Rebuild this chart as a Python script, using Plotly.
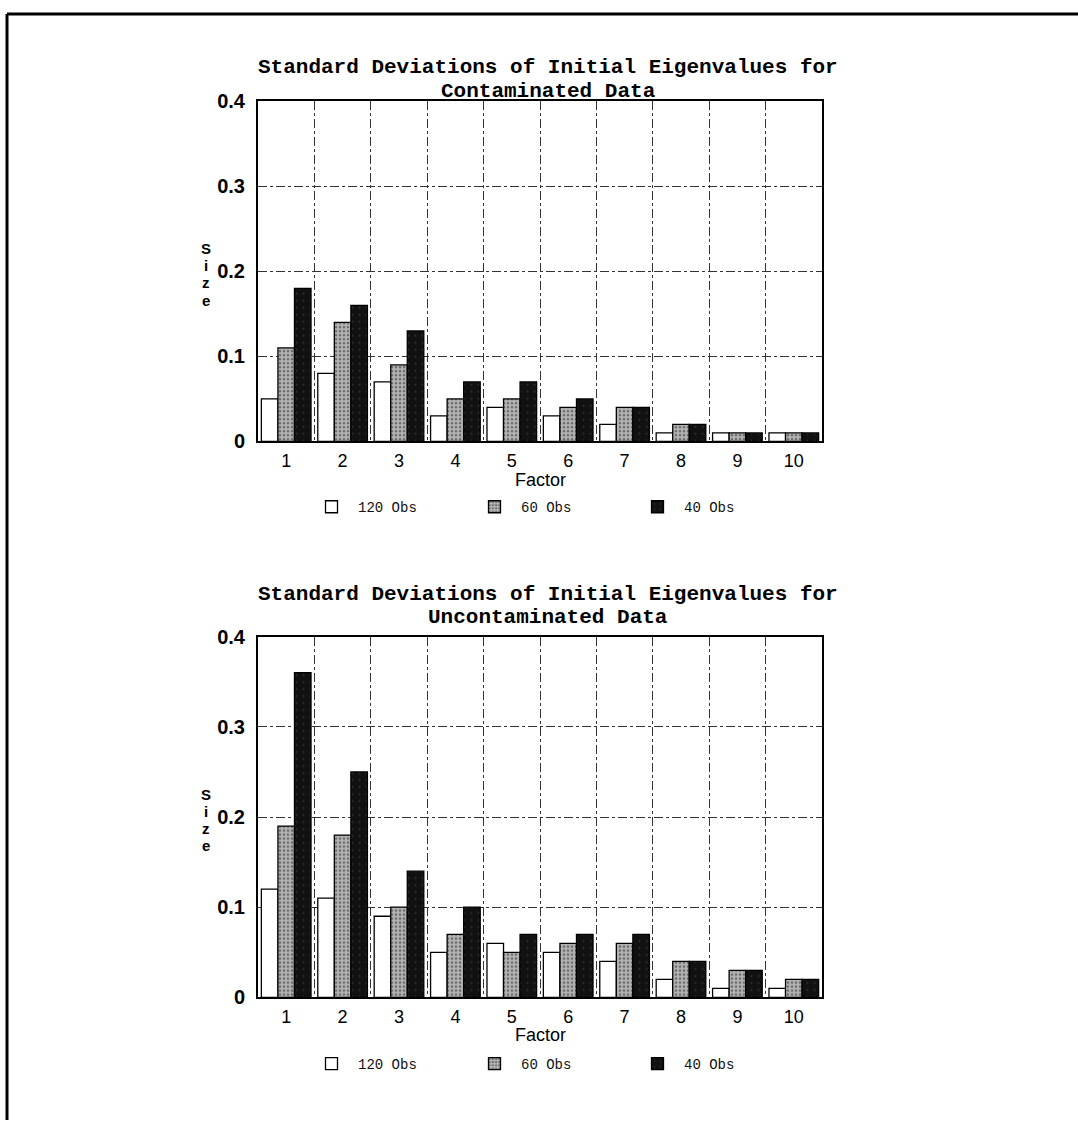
import plotly.graph_objects as go

factors = [1, 2, 3, 4, 5, 6, 7, 8, 9, 10]
series_names = ["120 Obs", "60 Obs", "40 Obs"]

# Contaminated data
cont_120 = [0.05, 0.08, 0.07, 0.03, 0.04, 0.03, 0.02, 0.01, 0.01, 0.01]
cont_60 = [0.11, 0.14, 0.09, 0.05, 0.05, 0.04, 0.04, 0.02, 0.01, 0.01]
cont_40 = [0.18, 0.16, 0.13, 0.07, 0.07, 0.05, 0.04, 0.02, 0.01, 0.01]

# Uncontaminated data
unc_120 = [0.12, 0.11, 0.09, 0.05, 0.06, 0.05, 0.04, 0.02, 0.01, 0.01]
unc_60 = [0.19, 0.18, 0.10, 0.07, 0.05, 0.06, 0.06, 0.04, 0.03, 0.02]
unc_40 = [0.36, 0.25, 0.14, 0.10, 0.07, 0.07, 0.07, 0.04, 0.03, 0.02]

y_ticks = [0, 0.1, 0.2, 0.3, 0.4]
y_ticktext = ["0", "0.1", "0.2", "0.3", "0.4"]

title_line1 = "Standard Deviations of Initial Eigenvalues for"
title_top_line2 = "Contaminated Data"
title_bot_line2 = "Uncontaminated Data"
x_title = "Factor"
y_title_letters = ["S", "i", "z", "e"]

W, H = 1078, 1131
TYPE_FONT = "Liberation Mono"
SANS = "Liberation Sans"

styles = [
    dict(color="white", line=dict(color="black", width=1.3)),
    dict(color="#9a9a9a", line=dict(color="black", width=1.3),
         pattern=dict(shape=".", fgcolor="#222222", bgcolor="#b4b4b4", size=4, solidity=0.35)),
    dict(color="#111111", line=dict(color="black", width=1.3),
         pattern=dict(shape=".", fgcolor="#555555", bgcolor="#111111", size=7, solidity=0.06)),
]

fig = go.Figure()


def px_y(y):
    return (H - y) / H


def px_x(x):
    return x / W


panels = [
    dict(vals=[cont_120, cont_60, cont_40], xa="x", ya="y", legend="legend",
         top=92, bottom=439, line2=title_top_line2, t1=58, t2=82,
         factor_y=478, leg_y=506),
    dict(vals=[unc_120, unc_60, unc_40], xa="x2", ya="y2", legend="legend2",
         top=638, bottom=1006, line2=title_bot_line2, t1=595, t2=619,
         factor_y=1044, leg_y=1074),
]

x_dom = [px_x(258), px_x(822)]
x_center = 548

for i, p in enumerate(panels):
    for name, vals, st in zip(series_names, p["vals"], styles):
        fig.add_trace(go.Bar(
            x=factors, y=vals, name=name, marker=st,
            xaxis=p["xa"], yaxis=p["ya"], legend=p["legend"],
            showlegend=True,
        ))
    sfx = "" if i == 0 else "2"
    fig.update_layout({
        "xaxis" + sfx: dict(
            domain=x_dom, anchor="y" + sfx, range=[0.5, 10.5],
            tickvals=factors, ticktext=[str(f) for f in factors],
            showgrid=False, zeroline=False,
            showline=True, mirror=True, linecolor="black", linewidth=2,
            ticks="", ticklabelstandoff=2,
            tickfont=dict(family=SANS, size=18, color="black"),
            minor=dict(tickvals=[k + 0.5 for k in range(1, 10)], showgrid=True,
                       gridcolor="#333333", gridwidth=1, griddash="dashdot", ticks=""),
            fixedrange=True,
        ),
        "yaxis" + sfx: dict(
            domain=[px_y(p["bottom"]), px_y(p["top"])], anchor="x" + sfx,
            range=[0, 0.4], tickvals=y_ticks, ticktext=y_ticktext,
            showgrid=True, gridcolor="#333333", gridwidth=1, griddash="dashdot",
            zeroline=False, showline=True, mirror=True, linecolor="black", linewidth=2,
            ticks="", ticklabelstandoff=7,
            tickfont=dict(family=SANS, size=20, color="black", weight="bold"),
            fixedrange=True,
        ),
    })
    # two-line title
    for txt, ty in ((title_line1, p["t1"]), (p["line2"], p["t2"])):
        fig.add_annotation(
            text="<b>" + txt + "</b>", xref="paper", yref="paper",
            x=px_x(x_center), y=px_y(ty), xanchor="center", yanchor="middle",
            showarrow=False, font=dict(family=TYPE_FONT, size=21, color="black"),
        )
    # x axis title
    fig.add_annotation(
        text=x_title, xref="paper", yref="paper",
        x=px_x(540), y=px_y(p["factor_y"]), xanchor="center", yanchor="middle",
        showarrow=False, font=dict(family=SANS, size=18, color="black"),
    )
    # stacked y-axis title
    mid = (p["top"] + p["bottom"]) / 2 + 3
    n = len(y_title_letters)
    for k, letter in enumerate(y_title_letters):
        fig.add_annotation(
            text="<b>" + letter + "</b>", xref="paper", yref="paper",
            x=px_x(206), y=px_y(mid + (k - (n - 1) / 2) * 17.5),
            xanchor="center", yanchor="middle",
            showarrow=False, font=dict(family=SANS, size=15, color="black"),
        )

leg_common = dict(
    orientation="h", xanchor="left", yanchor="middle",
    font=dict(family=TYPE_FONT, size=14, color="#111111"),
    bgcolor="rgba(0,0,0,0)", entrywidth=105, entrywidthmode="pixels",
    itemwidth=43, traceorder="normal",
)
fig.update_layout(
    legend=dict(x=px_x(305), y=px_y(panels[0]["leg_y"]), **leg_common),
    legend2=dict(x=px_x(305), y=px_y(panels[1]["leg_y"]), **leg_common),
)

# page frame (top and left edges)
fig.add_shape(type="line", xref="paper", yref="paper", x0=px_x(7), x1=1.0,
              y0=px_y(3), y1=px_y(3), line=dict(color="black", width=3))
fig.add_shape(type="line", xref="paper", yref="paper", x0=px_x(7), x1=px_x(7),
              y0=px_y(3), y1=0.0, line=dict(color="black", width=3))

fig.update_layout(
    width=W, height=H, margin=dict(l=0, r=0, t=0, b=0),
    paper_bgcolor="white", plot_bgcolor="white",
    barmode="group", bargap=0.12, bargroupgap=0.0,
)

fig.write_html("out.html", config={"displayModeBar": False})
